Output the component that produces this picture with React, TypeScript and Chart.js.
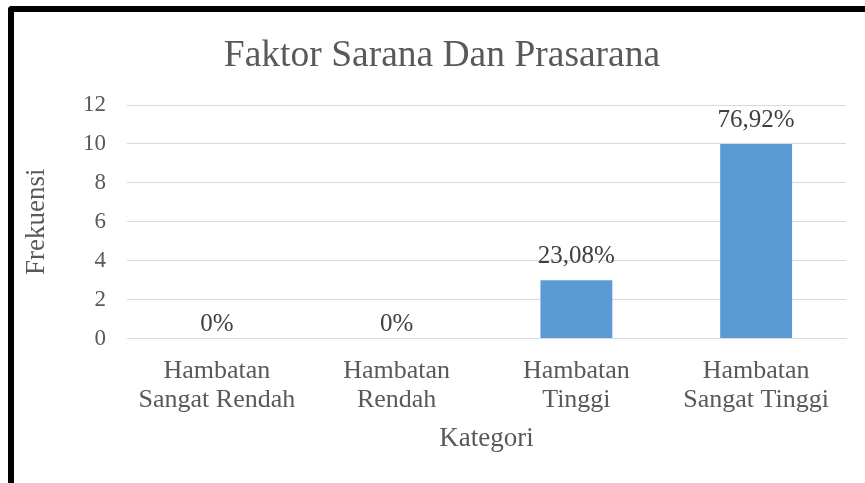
import React, { useEffect, useRef } from "react";
import { Chart, registerables } from "chart.js";

Chart.register(...registerables);

const chartTitle = "Faktor Sarana Dan Prasarana";
const categories: string[][] = [
  ["Hambatan", "Sangat Rendah"],
  ["Hambatan", "Rendah"],
  ["Hambatan", "Tinggi"],
  ["Hambatan", "Sangat Tinggi"],
];
const frequencies = [0, 0, 3, 10];
const percentLabels = ["0%", "0%", "23,08%", "76,92%"];
const yAxisTitle = "Frekuensi";
const xAxisTitle = "Kategori";
const yMin = 0;
const yMax = 12;
const yStep = 2;

const FONT = "'Liberation Serif', 'Times New Roman', serif";
const TEXT = "#595959";

const dataLabelPlugin = {
  id: "dataLabels",
  afterDatasetsDraw(chart: any) {
    const ctx = chart.ctx;
    const meta = chart.getDatasetMeta(0);
    ctx.save();
    ctx.font = `25px ${FONT}`;
    ctx.fillStyle = "#404040";
    ctx.textAlign = "center";
    ctx.textBaseline = "alphabetic";
    meta.data.forEach((bar: any, i: number) => {
      const v = frequencies[i];
      const off = v > 0 ? 17 : 7.5;
      ctx.fillText(percentLabels[i], bar.x, bar.y - off);
    });
    ctx.restore();
  },
};

// Chart title centred on the whole chart box (not the plot area), as in the source
const boxTitlePlugin = {
  id: "boxTitle",
  afterDraw(chart: any) {
    const ctx = chart.ctx;
    ctx.save();
    ctx.font = `37.5px ${FONT}`;
    ctx.fillStyle = TEXT;
    ctx.textAlign = "center";
    ctx.textBaseline = "middle";
    ctx.fillText(chartTitle, chart.width / 2, 44.5);
    ctx.restore();
  },
};

export default function App() {
  const ref = useRef<HTMLCanvasElement | null>(null);
  useEffect(() => {
    if (!ref.current) return;
    const chart = new Chart(ref.current, {
      type: "bar",
      data: {
        labels: categories,
        datasets: [
          {
            data: frequencies,
            backgroundColor: "#5b9bd5",
            barPercentage: 0.4,
            categoryPercentage: 1,
          },
        ],
      },
      options: {
        responsive: false,
        animation: false,
        devicePixelRatio: 1,
        layout: { padding: { top: 93, left: 0, right: 24, bottom: 0 } },
        plugins: {
          legend: { display: false },
          tooltip: { enabled: false },
          title: { display: false },
        },
        scales: {
          x: {
            grid: { display: false },
            border: { display: true, color: "#d9d9d9", width: 1 },
            ticks: {
              color: TEXT,
              font: { family: FONT, size: 26, lineHeight: 1.12 },
              padding: 10,
              maxRotation: 0,
              autoSkip: false,
            },
            title: {
              display: true,
              text: xAxisTitle,
              color: TEXT,
              font: { family: FONT, size: 27 },
              padding: { top: 0, bottom: 28 },
            },
            afterFit: (s: any) => {
              s.height = 144.5;
            },
          },
          y: {
            min: yMin,
            max: yMax,
            ticks: {
              stepSize: yStep,
              color: TEXT,
              font: { family: FONT, size: 23 },
              padding: 21,
            },
            grid: { color: "#d9d9d9", drawTicks: false, lineWidth: 1 },
            border: { display: false },
            title: {
              display: true,
              text: yAxisTitle,
              color: TEXT,
              font: { family: FONT, size: 27 },
              padding: { top: 7, bottom: 0 },
            },
            afterFit: (s: any) => {
              s.width = 113;
            },
          },
        },
      },
      plugins: [dataLabelPlugin, boxTitlePlugin],
    } as any);
    return () => chart.destroy();
  }, []);

  return (
    <div
      style={{
        position: "fixed",
        left: 8,
        top: 6,
        width: 857,
        height: 477,
        overflow: "hidden",
        borderLeft: "6px solid #000",
        borderTop: "6px solid #000",
        borderTopLeftRadius: 4,
        boxSizing: "border-box",
        background: "#fff",
      }}
    >
      <canvas ref={ref} width={856} height={471} style={{ display: "block" }} />
    </div>
  );
}
